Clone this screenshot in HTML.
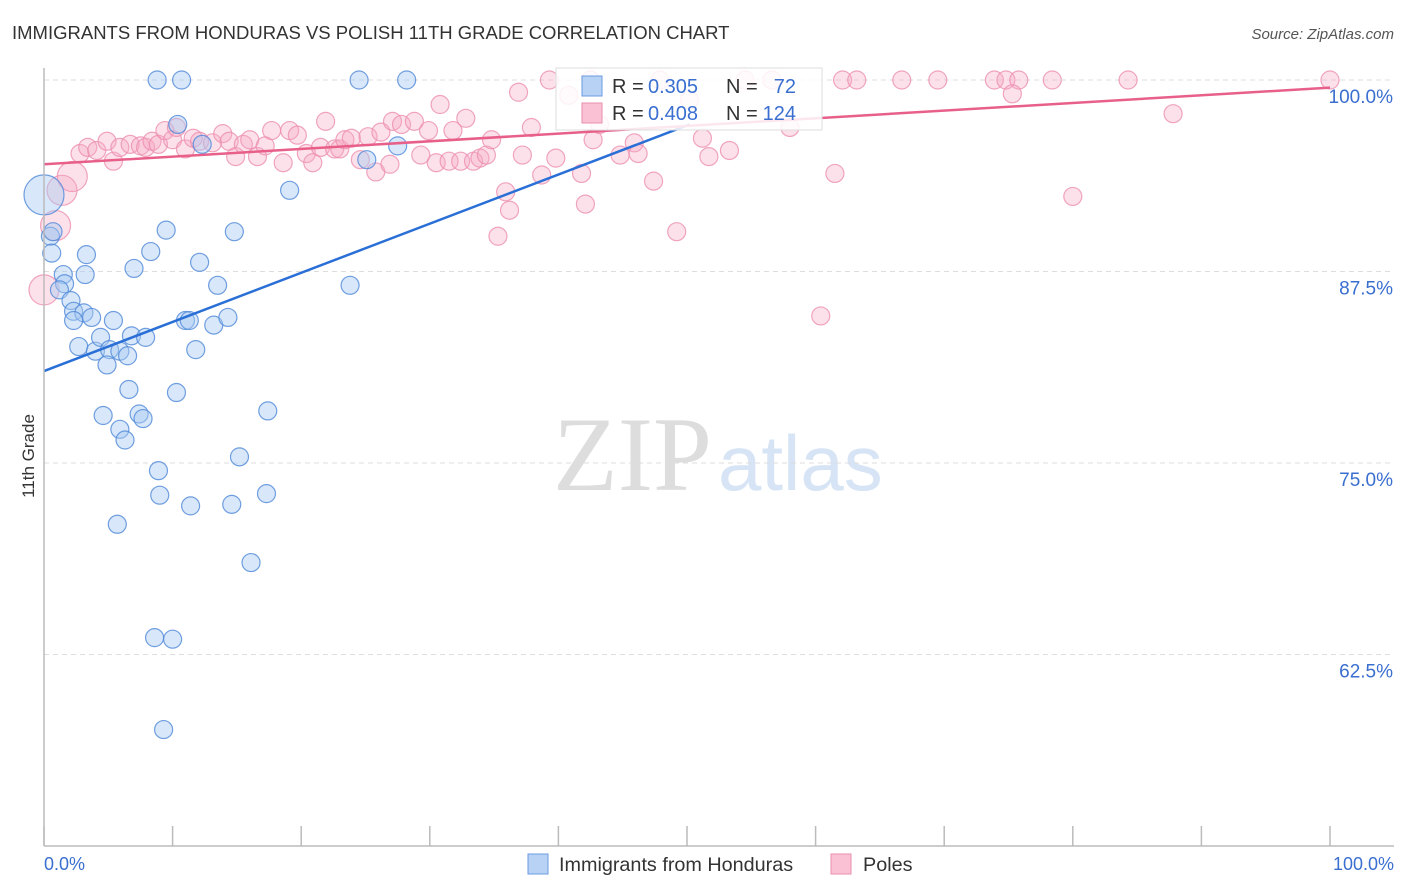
<!DOCTYPE html>
<html><head><meta charset="utf-8"><style>
body{margin:0;background:#fff;font-family:"Liberation Sans",sans-serif;}
#c{position:relative;width:1406px;height:892px;overflow:hidden}
</style></head><body>
<div id="c">
<svg id="s" width="1406" height="892" xmlns="http://www.w3.org/2000/svg">
<text x="12" y="39" font-size="18.5" fill="#333">IMMIGRANTS FROM HONDURAS VS POLISH 11TH GRADE CORRELATION CHART</text>
<text x="1394" y="39" font-size="15" fill="#555" font-style="italic" text-anchor="end">Source: ZipAtlas.com</text>
<text x="34" y="456" font-size="17" fill="#333" transform="rotate(-90 34 456)" text-anchor="middle">11th Grade</text>
<g>
<text x="553" y="490" font-size="106" font-family="Liberation Serif,serif" fill="#ddd">ZIP</text>
<text x="718" y="490" font-size="78" fill="#d6e4f5">atlas</text>
</g>
<g id="grid"></g><g id="pts"></g><g id="lines"></g>
<line x1="44" y1="68" x2="44" y2="846" stroke="#bbb" stroke-width="1.5"/>
<line x1="44" y1="846" x2="1394" y2="846" stroke="#bbb" stroke-width="1.5"/>
<g id="xt"></g>
<text x="44" y="870" font-size="18" fill="#3a6fd0">0.0%</text>
<text x="1394" y="870" font-size="18" fill="#3a6fd0" text-anchor="end">100.0%</text>
<g>
<rect x="556" y="68" width="266" height="62" fill="#fff" fill-opacity="0.85" stroke="#ddd"/>
<rect x="582" y="76" width="20" height="20" fill="#b7d2f5" stroke="#6a9be0"/>
<rect x="582" y="103" width="20" height="20" fill="#f9c1d3" stroke="#ea8fae"/>
<g font-size="20" fill="#333">
<text x="612" y="93">R =</text>
<text x="648" y="93" fill="#3a6fd0">0.305</text>
<text x="726" y="93">N =</text>
<text x="796" y="93" fill="#3a6fd0" text-anchor="end">72</text>
<text x="612" y="120">R =</text>
<text x="648" y="120" fill="#3a6fd0">0.408</text>
<text x="726" y="120">N =</text>
<text x="796" y="120" fill="#3a6fd0" text-anchor="end">124</text>
</g>
</g>
<g>
<rect x="528" y="854" width="20" height="20" fill="#b7d2f5" stroke="#6a9be0"/>
<text x="559" y="871" font-size="19.8" fill="#333">Immigrants from Honduras</text>
<rect x="831" y="854" width="20" height="20" fill="#f9c1d3" stroke="#ea8fae"/>
<text x="863" y="871" font-size="19.8" fill="#333">Poles</text>
</g>
</svg></div>
<script>
const yTicks=[100,87.5,75,62.5];
const yTickLabels=["100.0%","87.5%","75.0%","62.5%"];
const xTicks=[0,10,20,30,40,50,60,70,80,90,100];
const blueX=[8.8,10.7,24.5,28.2,10.4,12.3,25.1,27.5,19.1,0,0.5,0.7,0.6,3.3,9.5,14.8,8.3,7.0,12.1,1.5,3.2,1.6,13.5,23.8,1.2,2.1,2.3,3.1,3.7,2.3,5.4,11.0,11.3,13.2,14.3,2.7,4.0,4.4,6.8,7.9,5.1,5.9,6.5,11.8,4.9,6.6,10.3,4.6,7.4,7.7,5.9,6.3,17.4,8.9,15.2,9.0,17.3,11.4,14.6,5.7,16.1,8.6,10.0,9.3];
const blueY=[100,100,100,100,97.1,95.8,94.8,95.7,92.8,92.5,89.8,90.1,88.7,88.6,90.2,90.1,88.8,87.7,88.1,87.3,87.3,86.7,86.6,86.6,86.3,85.6,84.9,84.8,84.5,84.3,84.3,84.3,84.3,84.0,84.5,82.6,82.3,83.2,83.3,83.2,82.4,82.3,82.0,82.4,81.4,79.8,79.6,78.1,78.2,77.9,77.2,76.5,78.4,74.5,75.4,72.9,73.0,72.2,72.3,71.0,68.5,63.6,63.5,57.6];
const blueBig=[9];
const pinkX=[0,0.9,1.4,2.2,2.8,3.4,4.1,4.9,5.4,5.9,6.7,7.5,7.9,8.4,8.9,9.4,10.0,10.3,11.0,11.6,12.1,13.1,13.9,14.4,14.9,15.5,16.0,16.6,17.2,17.7,18.6,19.1,19.7,20.4,20.9,21.5,21.9,22.6,23.0,23.4,23.9,24.6,25.2,25.8,26.2,26.9,27.1,27.8,28.8,29.3,29.9,30.5,30.8,31.5,31.8,32.4,32.8,33.4,33.9,34.4,34.8,35.9,36.2,35.3,36.9,37.2,37.9,38.7,39.3,39.8,40.8,41.8,42.1,42.5,42.7,43.2,44.8,45.9,46.2,47.4,49.2,47.9,50.2,51.2,51.7,53.3,54.5,56.6,58.0,61.5,60.4,62.1,63.2,66.7,69.5,73.9,74.8,75.8,75.3,78.4,80.0,84.3,87.8,100];
const pinkY=[86.3,90.5,92.8,93.7,95.2,95.6,95.4,96.0,94.7,95.6,95.8,95.7,95.6,96.0,95.8,96.7,96.1,96.9,95.5,96.2,96.0,95.9,96.5,96.0,95.0,95.8,96.1,95.0,95.7,96.7,94.6,96.7,96.4,95.2,94.6,95.6,97.3,95.5,95.5,96.1,96.2,94.8,96.3,94.0,96.6,94.5,97.3,97.1,97.3,95.1,96.7,94.6,98.4,94.7,96.7,94.7,97.5,94.7,94.9,95.1,96.1,92.7,91.5,89.8,99.2,95.1,96.9,93.8,100,94.9,99.0,93.9,91.9,100,96.1,97.1,95.1,95.9,95.2,93.4,90.1,100,98.7,96.2,95.0,95.4,100,100,96.9,93.9,84.6,100,100,100,100,100,100,100,99.1,100,92.4,100,97.8,100];
const pinkBig=[0,1,2,3];
const blueTrend=[[0,81.0],[50.2,97.1]];
const pinkTrend=[[0,94.5],[100,99.5]];
const NS="http://www.w3.org/2000/svg";
const X=v=>44+v*12.86;
const Y=v=>80+(100-v)*15.32;
function mk(t,a,p){const e=document.createElementNS(NS,t);for(const k in a)e.setAttribute(k,a[k]);document.getElementById(p).appendChild(e);return e;}
yTicks.forEach((t,i)=>{
 const l=mk('line',{x1:44,x2:1394,y1:Y(t),y2:Y(t),stroke:'#ddd','stroke-dasharray':'5,4'},'grid');
 
 
 const tx=mk('text',{x:1393,y:Y(t)+23,'font-size':19,fill:'#3a6fd0','text-anchor':'end'},'grid');
 tx.textContent=yTickLabels[i];
 
 
});
xTicks.forEach(t=>{
 const l=mk('line',{x1:X(t),x2:X(t),y1:826,y2:846,stroke:'#bbb','stroke-width':1.5},'xt');
 
 
});
pinkX.forEach((x,i)=>{
 const big=pinkBig.includes(i);
 const c=mk('circle',{cx:X(x),cy:Y(pinkY[i]),r:big?15:9,fill:'#f7a9c2','fill-opacity':0.35,stroke:'#ec8fb0','stroke-opacity':0.8,'stroke-width':1.2},'pts');
 
 
});
blueX.forEach((x,i)=>{
 const big=blueBig.includes(i);
 const c=mk('circle',{cx:X(x),cy:Y(blueY[i]),r:big?20:9,fill:'#a9c9f2','fill-opacity':0.45,stroke:'#4f88d8','stroke-opacity':0.8,'stroke-width':1.2},'pts');
 
 
});
const bl=mk('line',{x1:X(blueTrend[0][0]),y1:Y(blueTrend[0][1]),x2:X(blueTrend[1][0]),y2:Y(blueTrend[1][1]),stroke:'#2a6fd6','stroke-width':2.5},'lines');


const pl=mk('line',{x1:X(pinkTrend[0][0]),y1:Y(pinkTrend[0][1]),x2:X(pinkTrend[1][0]),y2:Y(pinkTrend[1][1]),stroke:'#e8608a','stroke-width':2.5},'lines');


</script>
</body></html>
